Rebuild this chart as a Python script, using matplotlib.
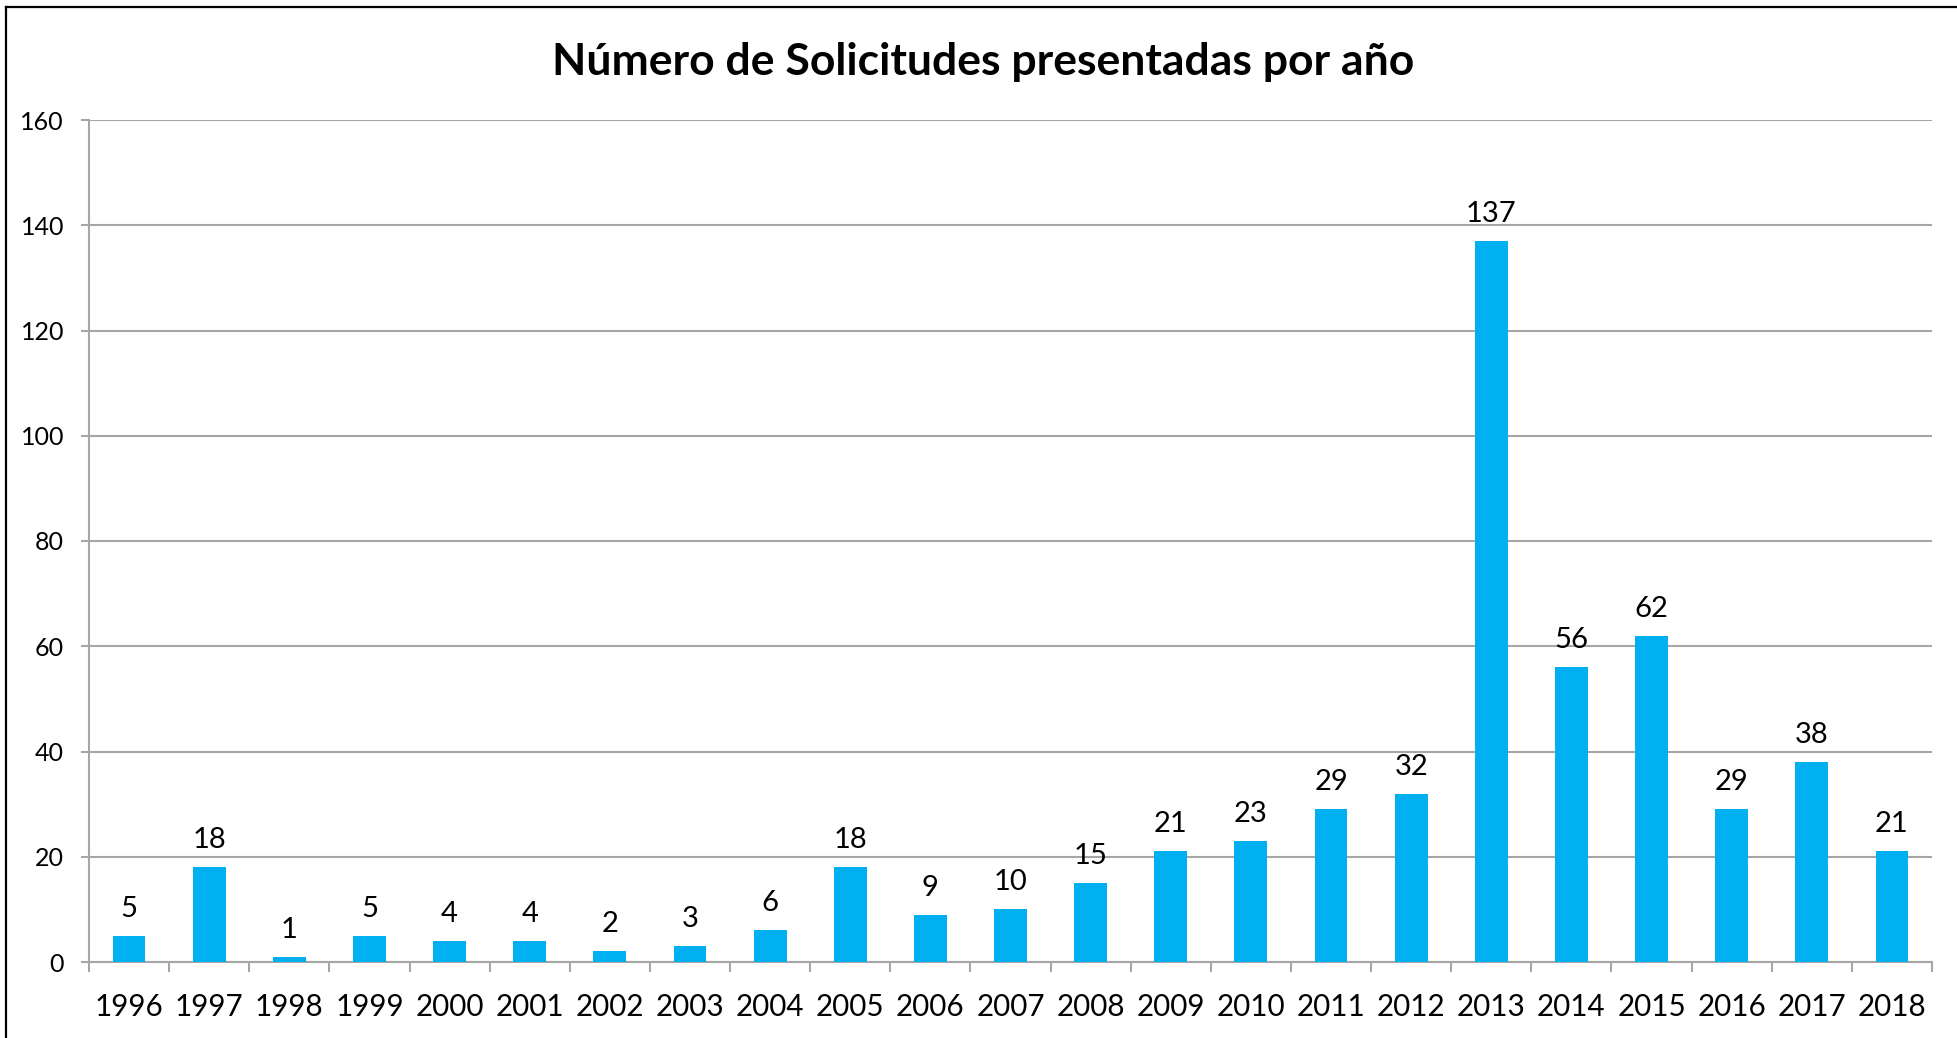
import matplotlib
matplotlib.use("Agg")
import matplotlib.pyplot as plt
from matplotlib.lines import Line2D
import numpy as np

years = ["1996", "1997", "1998", "1999", "2000", "2001", "2002", "2003", "2004", "2005",
         "2006", "2007", "2008", "2009", "2010", "2011", "2012", "2013", "2014", "2015",
         "2016", "2017", "2018"]
solicitudes = [5, 18, 1, 5, 4, 4, 2, 3, 6, 18, 9, 10, 15, 21, 23, 29, 32, 137, 56, 62, 29, 38, 21]
yticks = [0, 20, 40, 60, 80, 100, 120, 140, 160]
title = "Número de Solicitudes presentadas por año"

plt.rcParams['font.family'] = ['Lato', 'DejaVu Sans']

W, H = 1957, 1038
fig = plt.figure(figsize=(W / 100, H / 100), dpi=100)
ax = fig.add_axes([89 / W, 1 - 962 / H, (1932 - 89) / W, (962 - 120) / H])

x = np.arange(len(years))
ax.bar(x, solicitudes, width=0.41, color="#00B0F0", zorder=3)

for xi, v in zip(x, solicitudes):
    ax.annotate(str(v), (xi, v), xytext=(0, 13.7), textcoords="offset points",
                ha="center", va="baseline", fontsize=21, color="black")

ax.set_xlim(-0.5, len(years) - 0.5)
ax.set_ylim(0, 160)
ax.set_yticks(yticks)
ax.set_yticklabels([str(t) for t in yticks], fontsize=18)
ax.yaxis.grid(True, color="#a6a6a6", linewidth=1.5, zorder=0)
ax.set_axisbelow(True)

ax.set_xticks(x)
ax.set_xticklabels(years, fontsize=21.3)
ax.set_xticks(np.arange(len(years) + 1) - 0.5, minor=True)
ax.tick_params(axis="x", which="major", length=0, pad=22.5)
ax.tick_params(axis="x", which="minor", length=7.5, width=1.5, color="#a6a6a6", direction="out")
ax.tick_params(axis="y", which="major", length=6, width=1.5, color="#a6a6a6", pad=12)

for s in ["top", "right"]:
    ax.spines[s].set_visible(False)
for s in ["left", "bottom"]:
    ax.spines[s].set_color("#a6a6a6")
    ax.spines[s].set_linewidth(1.5)

fig.text(983 / W, 1 - 61.5 / H, title, ha="center", va="center", fontsize=32, fontweight="bold")

# outer chart border (top and left visible)
fig.add_artist(Line2D([5.5 / W, 5.5 / W], [0, 1 - 7 / H], color="black", linewidth=1.6, transform=fig.transFigure))
fig.add_artist(Line2D([5.5 / W, 1], [1 - 7 / H, 1 - 7 / H], color="black", linewidth=1.6, transform=fig.transFigure))

fig.savefig("out.png", dpi=100, facecolor="white")
